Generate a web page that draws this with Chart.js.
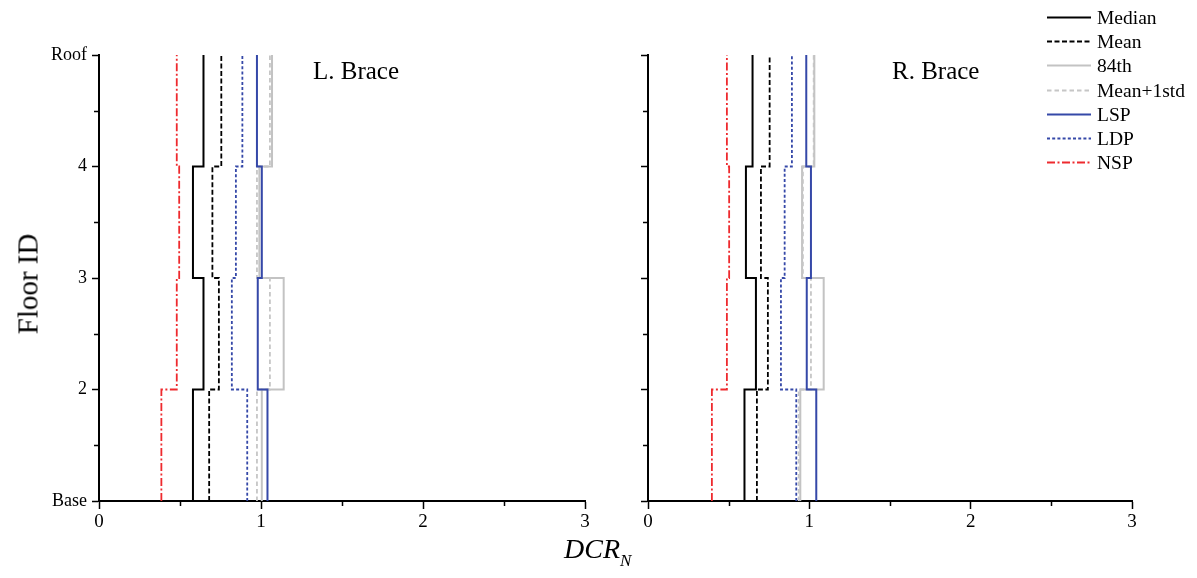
<!DOCTYPE html>
<html>
<head>
<meta charset="utf-8">
<script src="https://cdn.jsdelivr.net/npm/chart.js@4.4.0/dist/chart.umd.min.js"></script>
<style>
  html, body { margin: 0; padding: 0; background: #fff; }
  body { width: 1197px; height: 578px; position: relative; overflow: hidden;
         font-family: "Liberation Serif", "Times New Roman", serif; color: #000; }
  canvas { position: absolute; top: 0; }
  #cL { left: 0; }
  #cR { left: 600px; }
  .txt { position: absolute; white-space: nowrap; line-height: 1; }
  .panel-title { font-size: 25px; }
  #ytitle { font-size: 29px; left: 28px; top: 284px; transform: translate(-50%, -50%) rotate(-90deg); }
  #xtitle { font-size: 28px; font-style: italic; left: 564px; top: 535px; }
  #xtitle sub { font-size: 17px; vertical-align: -8px; }
  #legend { position: absolute; left: 1047px; top: 5px; }
  .row { position: absolute; left: 0; height: 24px; width: 150px; font-size: 19.5px; }
  .row svg { position: absolute; left: 0; top: 0; }
  .row span { position: absolute; left: 50px; top: 2px; }
</style>
</head>
<body>
<canvas id="cL" width="600" height="578" style="width:600px;height:578px"></canvas>
<canvas id="cR" width="597" height="578" style="width:597px;height:578px"></canvas>

<div class="txt panel-title" style="left:313px;top:58px">L. Brace</div>
<div class="txt panel-title" style="left:892px;top:58px">R. Brace</div>
<div class="txt" id="ytitle">Floor ID</div>
<div class="txt" id="xtitle">DCR<sub>N</sub></div>
<div id="legend"></div>

<script>
// Floor levels (Base = 1 ... Roof = 5) and their tick labels
const floorLevels = [1, 2, 3, 4, 5];
const floorLabels = ['Base', '2', '3', '4', 'Roof'];
const xTickValues = [0, 1, 2, 3];

// Story values, listed bottom-up: Base-2, 2-3, 3-4, 4-Roof
const leftMedian   = [0.580, 0.645, 0.580, 0.645];
const leftMean     = [0.680, 0.740, 0.700, 0.755];
const left84th     = [1.005, 1.140, 0.990, 1.068];
const leftMeanStd  = [0.975, 1.055, 0.975, 1.055];
const leftLSP      = [1.040, 0.980, 1.005, 0.975];
const leftLDP      = [0.915, 0.820, 0.845, 0.885];
const leftNSP      = [0.385, 0.480, 0.495, 0.480];

const rightMedian  = [0.598, 0.669, 0.607, 0.648];
const rightMean    = [0.675, 0.743, 0.700, 0.754];
const right84th    = [0.944, 1.089, 0.955, 1.031];
const rightMeanStd = [0.934, 1.010, 0.960, 1.027];
const rightLSP     = [1.043, 0.984, 1.010, 0.981];
const rightLDP     = [0.919, 0.824, 0.847, 0.892];
const rightNSP     = [0.396, 0.489, 0.503, 0.489];

const seriesNames = ['Median', 'Mean', '84th', 'Mean+1std', 'LSP', 'LDP', 'NSP'];

const styles = {
  'Median':    { color: '#000000', width: 2,   dash: [],           order: 2 },
  'Mean':      { color: '#000000', width: 1.8, dash: [5, 2.5],     order: 1 },
  '84th':      { color: '#c3c3c3', width: 2,   dash: [],           order: 7 },
  'Mean+1std': { color: '#c6c6c6', width: 1.8, dash: [4.5, 3],     order: 6 },
  'LSP':       { color: '#3548a8', width: 2,   dash: [],           order: 4 },
  'LDP':       { color: '#3548a8', width: 1.8, dash: [3, 2.2],     order: 5 },
  'NSP':       { color: '#ee2a2e', width: 1.8, dash: [8, 2.5, 2, 2.5], order: 3 }
};

// Turn per-story values into a stepped profile over the floor levels
function stepProfile(vals) {
  const pts = [];
  vals.forEach((v, i) => {
    pts.push({ x: v, y: floorLevels[i] });
    pts.push({ x: v, y: floorLevels[i + 1] });
  });
  return pts;
}

function buildDatasets(list) {
  return list.map((vals, i) => {
    const name = seriesNames[i];
    const s = styles[name];
    return {
      label: name,
      data: stepProfile(vals),
      showLine: true,
      borderColor: s.color,
      borderWidth: s.width,
      borderDash: s.dash,
      pointRadius: 0,
      fill: false,
      tension: 0,
      order: s.order
    };
  });
}

const serif = '"Liberation Serif", "Times New Roman", serif';
const isMajor = v => Math.abs(v - Math.round(v)) < 1e-9;

// Short outward marks for the half-step ticks
const minorTicks = {
  id: 'minorTicks',
  afterDraw(chart) {
    const { ctx, chartArea, scales } = chart;
    ctx.save();
    ctx.strokeStyle = '#000';
    ctx.lineWidth = 1.5;
    ctx.beginPath();
    scales.x.ticks.forEach(t => {
      if (!isMajor(t.value)) {
        const px = Math.round(scales.x.getPixelForValue(t.value)) + 0.5;
        ctx.moveTo(px, chartArea.bottom);
        ctx.lineTo(px, chartArea.bottom + 5);
      }
    });
    scales.y.ticks.forEach(t => {
      if (!isMajor(t.value)) {
        const py = Math.round(scales.y.getPixelForValue(t.value)) + 0.5;
        ctx.moveTo(chartArea.left, py);
        ctx.lineTo(chartArea.left - 5, py);
      }
    });
    ctx.stroke();
    ctx.restore();
  }
};

function makeChart(id, seriesList, yAxisWidth, rightPad, showYLabels) {
  return new Chart(document.getElementById(id), {
    type: 'scatter',
    data: { datasets: buildDatasets(seriesList) },
    options: {
      responsive: false,
      animation: false,
      events: [],
      layout: { padding: { top: 55, right: rightPad, left: 0, bottom: 0 } },
      plugins: { legend: { display: false }, tooltip: { enabled: false } },
      scales: {
        x: {
          type: 'linear', min: 0, max: 3,
          afterBuildTicks: sc => {
            const t = [];
            xTickValues.forEach((v, i) => {
              t.push({ value: v });
              if (i < xTickValues.length - 1) t.push({ value: v + 0.5 });
            });
            sc.ticks = t;
          },
          afterFit: sc => { sc.height = 77; },
          ticks: {
            color: '#000', font: { family: serif, size: 19 }, padding: 2, maxRotation: 0, autoSkip: false,
            callback: v => isMajor(v) ? String(v) : ''
          },
          grid: {
            drawOnChartArea: false, tickLength: 8, tickWidth: 1.5,
            tickColor: c => (c.tick && isMajor(c.tick.value)) ? '#000' : 'rgba(0,0,0,0)'
          },
          border: { color: '#000', width: 2 }
        },
        y: {
          type: 'linear', min: 1, max: 5,
          afterBuildTicks: sc => {
            const t = [];
            floorLevels.forEach((v, i) => {
              t.push({ value: v });
              if (i < floorLevels.length - 1) t.push({ value: v + 0.5 });
            });
            sc.ticks = t;
          },
          afterFit: sc => { sc.width = yAxisWidth; },
          ticks: {
            color: '#000', font: { family: serif, size: 18 }, padding: 5, autoSkip: false,
            callback: v => (showYLabels && isMajor(v)) ? floorLabels[Math.round(v) - 1] : ''
          },
          grid: {
            drawOnChartArea: false, tickLength: 7, tickWidth: 1.5,
            tickColor: c => (c.tick && isMajor(c.tick.value)) ? '#000' : 'rgba(0,0,0,0)'
          },
          border: { color: '#000', width: 2 }
        }
      }
    },
    plugins: [minorTicks]
  });
}

makeChart('cL', [leftMedian, leftMean, left84th, leftMeanStd, leftLSP, leftLDP, leftNSP], 99, 15, true);
makeChart('cR', [rightMedian, rightMean, right84th, rightMeanStd, rightLSP, rightLDP, rightNSP], 48, 65, false);

// Legend entries with line samples
const legend = document.getElementById('legend');
seriesNames.forEach((name, i) => {
  const s = styles[name];
  const row = document.createElement('div');
  row.className = 'row';
  row.style.top = (i * 24.2) + 'px';
  const dash = s.dash.length ? ` stroke-dasharray="${s.dash.join(' ')}"` : '';
  row.innerHTML = `<svg width="46" height="24"><line x1="0" y1="12.5" x2="44" y2="12.5" stroke="${s.color}" stroke-width="${s.width}"${dash}/></svg><span>${name}</span>`;
  legend.appendChild(row);
});
</script>
</body>
</html>
